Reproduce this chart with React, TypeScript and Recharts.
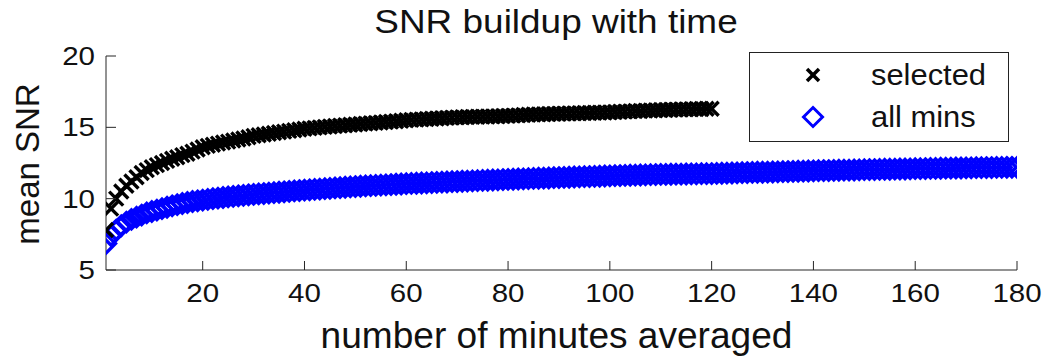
import { Legend, Scatter, ScatterChart, XAxis, YAxis } from 'recharts';

// mean SNR for the hand-selected minutes, 1..120 minutes averaged
const selectedSnr = [
  7.8, 9.3, 10.0, 10.5, 10.9, 11.2, 11.5, 11.8, 12.0, 12.2,
  12.35, 12.5, 12.65, 12.8, 12.9, 13.05, 13.15, 13.3, 13.45, 13.6,
  13.7, 13.78, 13.86, 13.94, 14.0, 14.08, 14.15, 14.22, 14.3, 14.4,
  14.45, 14.5, 14.55, 14.6, 14.65, 14.7, 14.75, 14.8, 14.85, 14.9,
  14.93, 14.96, 15.0, 15.03, 15.06, 15.09, 15.12, 15.15, 15.18, 15.2,
  15.23, 15.26, 15.29, 15.31, 15.34, 15.37, 15.4, 15.43, 15.46, 15.5,
  15.52, 15.54, 15.56, 15.58, 15.6, 15.62, 15.64, 15.66, 15.68, 15.7,
  15.71, 15.72, 15.73, 15.74, 15.75, 15.76, 15.77, 15.78, 15.79, 15.8,
  15.82, 15.84, 15.86, 15.88, 15.9, 15.91, 15.92, 15.93, 15.94, 15.95,
  15.96, 15.97, 15.98, 15.99, 16.0, 16.01, 16.02, 16.03, 16.04, 16.05,
  16.07, 16.09, 16.1, 16.12, 16.14, 16.15, 16.17, 16.18, 16.2, 16.21,
  16.22, 16.23, 16.24, 16.25, 16.26, 16.27, 16.28, 16.29, 16.3, 16.3,
];

// mean SNR over all minutes, 1..180 minutes averaged
const allMinsSnr = [
  6.85, 7.4, 7.8, 8.1, 8.35, 8.55, 8.7, 8.85, 9.0, 9.1,
  9.2, 9.3, 9.4, 9.5, 9.58, 9.66, 9.73, 9.8, 9.85, 9.9,
  9.95, 10.0, 10.04, 10.08, 10.12, 10.16, 10.2, 10.23, 10.27, 10.3,
  10.33, 10.36, 10.39, 10.42, 10.45, 10.48, 10.51, 10.54, 10.57, 10.6,
  10.62, 10.65, 10.67, 10.7, 10.72, 10.75, 10.77, 10.8, 10.82, 10.85,
  10.87, 10.89, 10.91, 10.93, 10.95, 10.97, 10.99, 11.01, 11.03, 11.05,
  11.07, 11.08, 11.1, 11.11, 11.13, 11.14, 11.16, 11.17, 11.19, 11.2,
  11.22, 11.23, 11.25, 11.26, 11.28, 11.29, 11.31, 11.32, 11.34, 11.35,
  11.36, 11.38, 11.39, 11.4, 11.42, 11.43, 11.44, 11.45, 11.47, 11.48,
  11.49, 11.5, 11.52, 11.53, 11.54, 11.55, 11.56, 11.57, 11.59, 11.6,
  11.61, 11.62, 11.63, 11.64, 11.65, 11.66, 11.67, 11.68, 11.69, 11.7,
  11.7, 11.71, 11.72, 11.72, 11.73, 11.74, 11.74, 11.75, 11.75, 11.76,
  11.77, 11.78, 11.79, 11.8, 11.81, 11.82, 11.83, 11.84, 11.85, 11.85,
  11.86, 11.87, 11.88, 11.89, 11.9, 11.91, 11.92, 11.93, 11.94, 11.95,
  11.96, 11.97, 11.97, 11.98, 11.99, 12.0, 12.0, 12.01, 12.02, 12.03,
  12.04, 12.04, 12.05, 12.06, 12.06, 12.07, 12.08, 12.08, 12.09, 12.1,
  12.1, 12.11, 12.12, 12.12, 12.13, 12.14, 12.14, 12.15, 12.15, 12.16,
  12.16, 12.17, 12.17, 12.18, 12.18, 12.19, 12.19, 12.2, 12.2, 12.2,
];

const xTicks = [20, 40, 60, 80, 100, 120, 140, 160, 180];
const yTicks = [5, 10, 15, 20];

const legendItems = [
  { label: 'selected', marker: 'cross' },
  { label: 'all mins', marker: 'diamond' },
];

const FONT = '"Liberation Sans", Arial, Helvetica, sans-serif';
const AXIS = '#262626';
const TEXT = '#111';
const BLUE = '#0000ff';

const selectedData = selectedSnr.map((snr, i) => ({ minutes: i + 1, snr }));
const allMinsData = allMinsSnr.map((snr, i) => ({ minutes: i + 1, snr }));

function CrossMark({ cx, cy, r = 7, w = 3.4 }: { cx: number; cy: number; r?: number; w?: number }) {
  return (
    <g stroke="#000" strokeWidth={w} strokeLinecap="butt">
      <line x1={cx - r} y1={cy - r} x2={cx + r} y2={cy + r} />
      <line x1={cx - r} y1={cy + r} x2={cx + r} y2={cy - r} />
    </g>
  );
}

function DiamondMark({ cx, cy, r = 9.5, w = 3.4 }: { cx: number; cy: number; r?: number; w?: number }) {
  return (
    <path
      d={`M${cx},${cy - r}L${cx + r},${cy}L${cx},${cy + r}L${cx - r},${cy}Z`}
      fill="none"
      stroke={BLUE}
      strokeWidth={w}
    />
  );
}

function XTick({ x, y, payload }: any) {
  return (
    <g>
      <line x1={x} y1={y} x2={x} y2={y - 9} stroke={AXIS} strokeWidth={1} />
      <text
        transform={`translate(${x},${y + 32}) scale(1.18,1)`}
        textAnchor="middle"
        fontSize={25}
        fontFamily={FONT}
        fill={TEXT}
      >
        {payload.value}
      </text>
    </g>
  );
}

function YTick({ x, y, payload }: any) {
  return (
    <g>
      <line x1={x} y1={y} x2={x + 10} y2={y} stroke={AXIS} strokeWidth={1} />
      <text
        transform={`translate(${x - 11},${y + 9}) scale(1.18,1)`}
        textAnchor="end"
        fontSize={25}
        fontFamily={FONT}
        fill={TEXT}
      >
        {payload.value}
      </text>
    </g>
  );
}

function LegendBox() {
  return (
    <svg width={260} height={90} style={{ display: 'block' }}>
      <rect x={0.5} y={0.5} width={259} height={89} fill="#fff" stroke="#222" strokeWidth={1} />
      {legendItems.map((item, i) => {
        const cy = 23 + i * 42;
        return (
          <g key={item.label}>
            {item.marker === 'cross' ? (
              <CrossMark cx={64} cy={cy} r={6} w={3.6} />
            ) : (
              <DiamondMark cx={64} cy={cy} r={9.5} w={3} />
            )}
            <text
              transform={`translate(122,${cy + 10}) scale(1.03,1)`}
              fontSize={30}
              fontFamily={FONT}
              fill={TEXT}
            >
              {item.label}
            </text>
          </g>
        );
      })}
    </svg>
  );
}

export default function App() {
  return (
    <div style={{ position: 'absolute', left: 0, top: 0, width: 1047, height: 361, background: '#fff' }}>
      <ScatterChart width={1047} height={361} margin={{ top: 56, right: 30, left: 6, bottom: 0 }}>
        <XAxis
          type="number"
          dataKey="minutes"
          domain={[1, 180]}
          ticks={xTicks}
          interval={0}
          height={91}
          tickSize={0}
          tickMargin={0}
          tickLine={false}
          axisLine={{ stroke: AXIS, strokeWidth: 1 }}
          tick={XTick}
          allowDataOverflow
          label={{
            content: ({ viewBox }: any) => (
              <text
                transform={`translate(${viewBox.x + viewBox.width / 2 - 5},${viewBox.y + 78}) scale(1.03,1)`}
                textAnchor="middle"
                fontSize={36}
                fontFamily={FONT}
                fill={TEXT}
              >
                number of minutes averaged
              </text>
            ),
          }}
        />
        <YAxis
          type="number"
          dataKey="snr"
          domain={[5, 20]}
          ticks={yTicks}
          interval={0}
          width={100}
          tickSize={0}
          tickMargin={0}
          tickLine={false}
          axisLine={{ stroke: AXIS, strokeWidth: 1 }}
          tick={YTick}
          allowDataOverflow
          label={{
            content: ({ viewBox }: any) => (
              <text
                transform={`translate(${viewBox.x + 33},${viewBox.y + viewBox.height / 2 + 1}) rotate(-90)`}
                textAnchor="middle"
                fontSize={33}
                fontFamily={FONT}
                fill={TEXT}
              >
                mean SNR
              </text>
            ),
          }}
        />
        <Legend
          layout="horizontal"
          verticalAlign="middle"
          align="center"
          content={() => <LegendBox />}
          wrapperStyle={{ left: 749, top: 52, width: 260, height: 90 }}
        />
        <Scatter
          name="all mins"
          data={allMinsData}
          isAnimationActive={false}
          shape={(p: any) => <DiamondMark cx={p.cx} cy={p.cy} />}
        />
        <Scatter
          name="selected"
          data={selectedData}
          isAnimationActive={false}
          shape={(p: any) => <CrossMark cx={p.cx} cy={p.cy} />}
        />
      </ScatterChart>
      <svg
        width={1047}
        height={361}
        style={{ position: 'absolute', left: 0, top: 0, pointerEvents: 'none' }}
      >
        <text
          transform="translate(556,33) scale(1.12,1)"
          textAnchor="middle"
          fontSize={33}
          fontFamily={FONT}
          fill={TEXT}
        >
          SNR buildup with time
        </text>
      </svg>
    </div>
  );
}
